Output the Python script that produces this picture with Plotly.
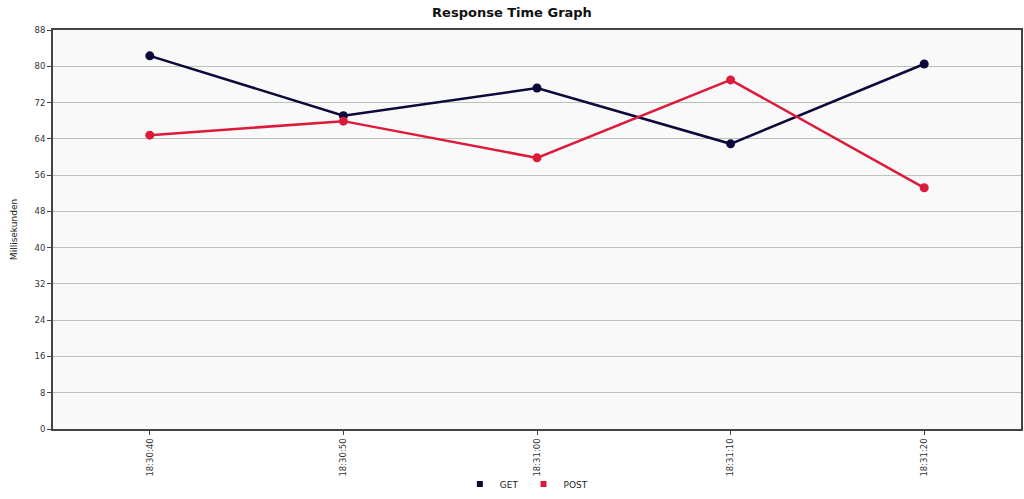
import plotly.graph_objects as go

times = ["18:30:40", "18:30:50", "18:31:00", "18:31:10", "18:31:20"]
get_ms = [82.3, 69.1, 75.2, 62.9, 80.5]
post_ms = [64.8, 67.9, 59.8, 77.0, 53.2]
y_ticks = [0, 8, 16, 24, 32, 40, 48, 56, 64, 72, 80, 88]

GET_C = "#0c0a3a"
POST_C = "#dc1b3c"
xpos = list(range(len(times)))

fig = go.Figure()
for name, vals, col in [("GET", get_ms, GET_C), ("POST", post_ms, POST_C)]:
    fig.add_trace(go.Scatter(x=xpos, y=vals, mode="lines+markers", name=name,
                             line=dict(color=col, width=2.5),
                             marker=dict(color=col, size=9), showlegend=False))
for name, col in [("GET", GET_C), ("POST", POST_C)]:
    fig.add_trace(go.Scatter(x=[None], y=[None], mode="markers", name=name,
                             marker=dict(color=col, size=6, symbol="square")))

fig.update_layout(
    width=1024, height=499,
    margin=dict(l=53, r=3, t=30, b=70, autoexpand=False),
    paper_bgcolor="white", plot_bgcolor="#f9f9f9",
    font=dict(family="DejaVu Sans", size=9, color="#333"),
    title=dict(text="<b>Response Time Graph</b>", x=0.5, xanchor="center",
               y=0.975, yanchor="middle", font=dict(size=13, color="#111")),
    legend=dict(orientation="h", x=0.489, xanchor="center", y=-0.138, yanchor="middle",
                bgcolor="rgba(0,0,0,0)",
                font=dict(size=9, color="#222"), itemwidth=30, tracegroupgap=0),
    showlegend=True,
)
fig.update_xaxes(range=[-0.5, len(times) - 0.5], tickvals=xpos, ticktext=times,
                 tickangle=-90, automargin=False, zeroline=False,
                 showgrid=False, showline=True, linecolor="#444", linewidth=2,
                 mirror=True, ticks="outside", ticklen=4, tickcolor="#444",
                 tickfont=dict(size=8.5, color="#333"))
fig.update_yaxes(range=[0, 88], tickvals=y_ticks, showgrid=True, automargin=False,
                 gridcolor="#b8c4b8", gridwidth=1, zeroline=False,
                 showline=True, linecolor="#444", linewidth=2, mirror=True,
                 ticks="outside", ticklen=4, tickcolor="#444",
                 tickfont=dict(size=8.5, color="#333"),
                 title=dict(text="Millisekunden", font=dict(size=9, color="#222"), standoff=15))

fig.write_html("out.html", config={"displayModeBar": False},
               post_script="document.body.style.margin='0';")
